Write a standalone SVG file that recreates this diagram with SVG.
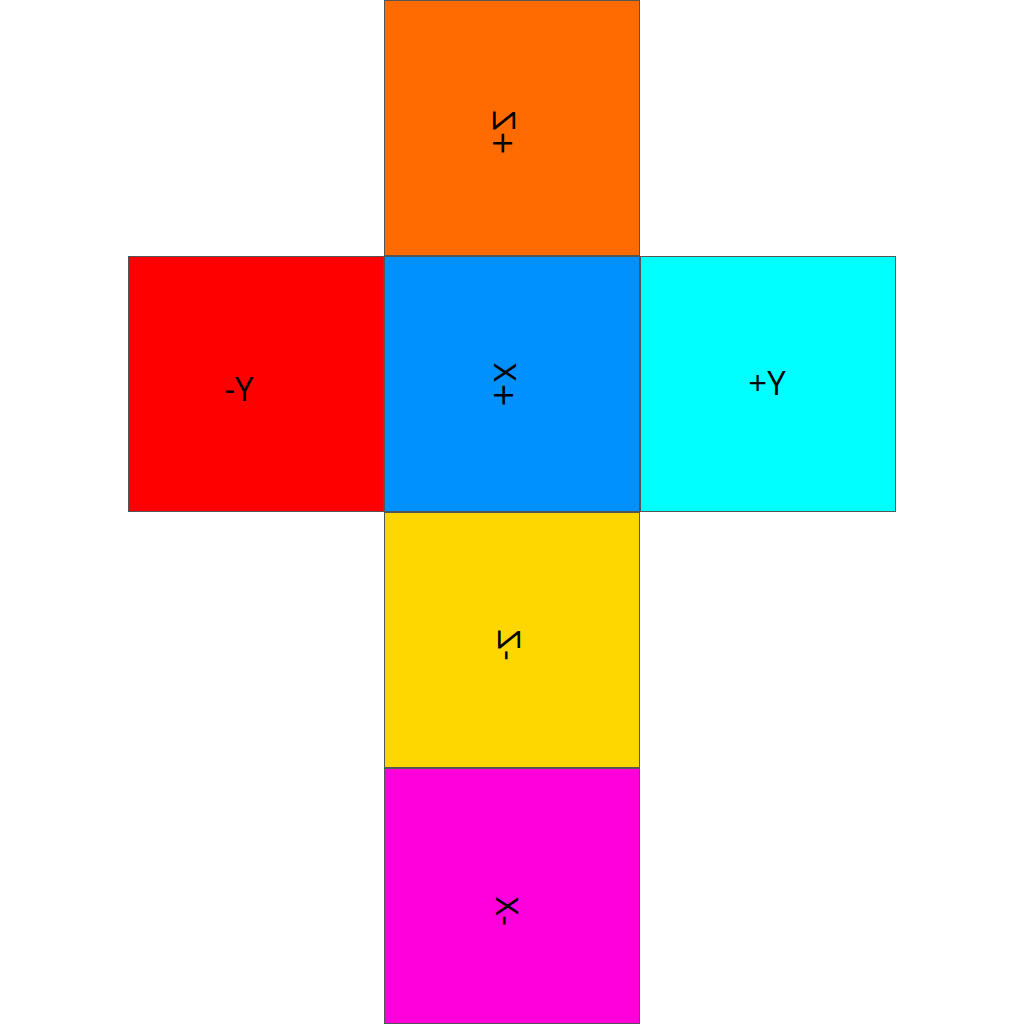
<svg xmlns="http://www.w3.org/2000/svg" width="1024" height="1024" viewBox="0 0 1024 1024">
<style>
.face{stroke:#555;stroke-width:1}
.lbl{fill:#000;text-anchor:middle}
.h{font-family:"Open Sans","Noto Sans",sans-serif;font-size:33px}
.v{font-family:"DejaVu Sans",sans-serif;font-size:30px}
</style>
<rect width="1024" height="1024" fill="#fff"/>
<g id="posZ">
<rect class="face" x="384.5" y="0.5" width="255" height="255" fill="#FF6B00"/>
<text class="lbl v" transform="translate(504,133) rotate(90) scale(-1,1)" y="11">+Z</text>
</g>
<g id="negY">
<rect class="face" x="128.5" y="256.5" width="255" height="255" fill="#FF0000"/>
<text class="lbl h" x="239" y="401">-Y</text>
</g>
<g id="posX">
<rect class="face" x="384.5" y="256.5" width="255" height="255" fill="#0091FF"/>
<text class="lbl v" transform="translate(505,385) rotate(90) scale(-1,1)" y="11">+X</text>
</g>
<g id="posY">
<rect class="face" x="640.5" y="256.5" width="255" height="255" fill="#00FFFF"/>
<text class="lbl h" x="767" y="395">+Y</text>
</g>
<g id="negZ">
<rect class="face" x="384.5" y="512.5" width="255" height="255" fill="#FFD700"/>
<text class="lbl v" transform="translate(509,645) rotate(90) scale(-1,1)" y="11">-Z</text>
</g>
<g id="negX">
<rect class="face" x="384.5" y="768.5" width="255" height="255" fill="#FF00DD"/>
<text class="lbl v" transform="translate(507,911) rotate(90) scale(-1,1)" y="11">-X</text>
</g>
<g id="connectors"/>
</svg>
